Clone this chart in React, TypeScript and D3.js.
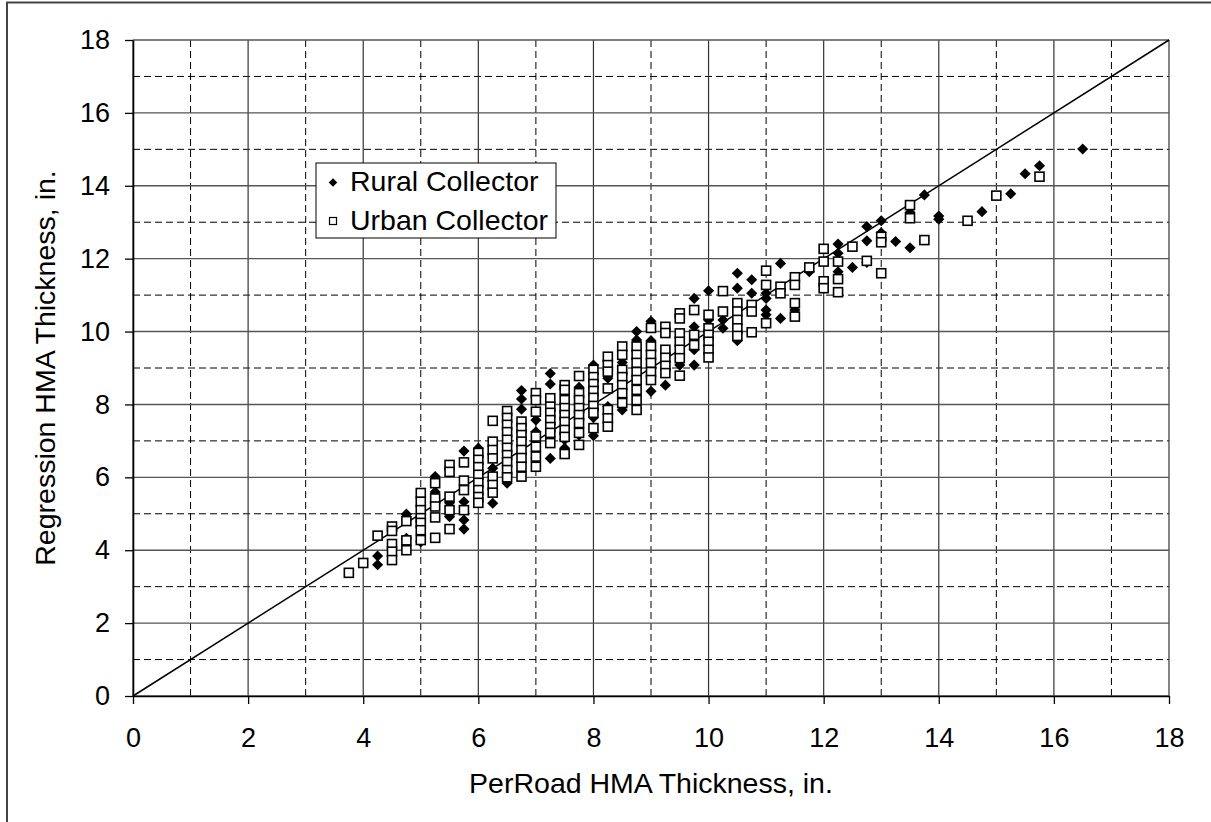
import * as d3 from 'd3';
import React, { useEffect, useRef } from 'react';

// axis ticks (inches)
const majorTicks = [0, 2, 4, 6, 8, 10, 12, 14, 16, 18];
const minorTicks = [1, 3, 5, 7, 9, 11, 13, 15, 17];
const seriesNames = ['Rural Collector', 'Urban Collector'];
const xTitle = 'PerRoad HMA Thickness, in.';
const yTitle = 'Regression HMA Thickness, in.';

// [PerRoad, Regression] pairs
const ruralPoints: [number, number][] = [
  [4.25, 3.84], [4.25, 3.6], [4.75, 4.99], [4.75, 4.33], [5, 4.23],
  [5.25, 6.02], [5.25, 5.6], [5.5, 5.3], [5.5, 4.92],
  [5.75, 6.72], [5.75, 5.33], [5.75, 4.83], [5.75, 4.58],
  [6, 6.8], [6.25, 6.25], [6.25, 5.29], [6.5, 6.02], [6.5, 5.84],
  [6.75, 8.38], [6.75, 8.15], [6.75, 7.87], [6.75, 7.3],
  [7, 7.57], [7, 7.25], [7, 6.53],
  [7.25, 8.85], [7.25, 8.56], [7.25, 7.12], [7.25, 6.52],
  [7.5, 7.03], [7.5, 6.8], [7.75, 8.47], [7.75, 7.16],
  [8, 9.08], [8, 7.64], [8, 7.14], [8.25, 8.72], [8.25, 7.94],
  [8.5, 9.15], [8.5, 7.85], [8.75, 10.0], [8.75, 9.77],
  [9, 10.28], [9, 9.75], [9, 8.36], [9.25, 8.53], [9.5, 9.08],
  [9.75, 10.91], [9.75, 10.13], [9.75, 9.5], [9.75, 9.08],
  [10, 11.12], [10, 10.32], [10.25, 10.32], [10.25, 10.09],
  [10.5, 11.6], [10.5, 11.19], [10.5, 9.75],
  [10.75, 11.42], [10.75, 11.05],
  [11, 11.05], [11, 10.91], [11, 10.59], [11, 10.46],
  [11.25, 11.87], [11.25, 10.36], [11.5, 10.59], [11.75, 11.64],
  [12.25, 12.4], [12.25, 12.15], [12.25, 11.64], [12.5, 11.76],
  [12.75, 12.88], [12.75, 12.49], [12.75, 11.9],
  [13, 13.04], [13, 12.71], [13.25, 12.47],
  [13.5, 13.27], [13.5, 12.3], [13.75, 13.75],
  [14, 13.17], [14, 13.08], [14.75, 13.29], [15.25, 13.78],
  [15.5, 14.33], [15.75, 14.55], [16.5, 15.01],
];

const urbanPoints: [number, number][] = [
  [3.75, 3.38], [4, 3.65], [4.25, 4.4],
  [4.5, 4.65], [4.5, 4.53], [4.5, 4.17], [4.5, 3.96], [4.5, 3.73],
  [4.75, 4.8], [4.75, 4.27], [4.75, 4.0],
  [5, 5.57], [5, 5.33], [5, 5.1], [5, 4.88], [5, 4.75], [5, 4.55], [5, 4.28],
  [5.25, 5.84], [5.25, 5.42], [5.25, 5.2], [5.25, 4.9], [5.25, 4.34],
  [5.5, 6.34], [5.5, 6.15], [5.5, 5.47], [5.5, 5.1], [5.5, 4.58],
  [5.75, 6.41], [5.75, 5.91], [5.75, 5.65], [5.75, 5.1],
  [6, 6.67], [6, 6.48], [6, 6.28], [6, 6.07], [6, 5.85], [6, 5.65], [6, 5.46], [6, 5.3],
  [6.25, 7.55], [6.25, 6.98], [6.25, 6.75], [6.25, 6.52], [6.25, 6.02], [6.25, 5.79], [6.25, 5.58],
  [6.5, 7.82], [6.5, 7.63], [6.5, 7.44], [6.5, 7.24], [6.5, 7.03], [6.5, 6.81], [6.5, 6.61], [6.5, 6.42], [6.5, 6.2], [6.5, 6.0],
  [6.75, 7.53], [6.75, 7.35], [6.75, 7.16], [6.75, 6.98], [6.75, 6.75], [6.75, 6.53], [6.75, 6.29], [6.75, 6.02],
  [7, 8.31], [7, 8.12], [7, 7.8], [7, 7.12], [7, 6.84], [7, 6.57], [7, 6.29],
  [7.25, 8.17], [7.25, 7.94], [7.25, 7.77], [7.25, 7.57], [7.25, 7.38], [7.25, 7.22], [7.25, 6.94],
  [7.5, 8.53], [7.5, 8.4], [7.5, 8.12], [7.5, 7.9], [7.5, 7.71], [7.5, 7.52], [7.5, 7.3], [7.5, 7.11], [7.5, 6.64],
  [7.75, 8.78], [7.75, 8.31], [7.75, 8.12], [7.75, 7.9], [7.75, 7.71], [7.75, 7.49], [7.75, 7.22], [7.75, 6.89],
  [8, 8.95], [8, 8.75], [8, 8.56], [8, 8.37], [8, 8.18], [8, 7.96], [8, 7.77], [8, 7.35],
  [8.25, 9.31], [8.25, 9.08], [8.25, 8.9], [8.25, 8.44], [8.25, 7.85], [8.25, 7.62], [8.25, 7.39],
  [8.5, 9.59], [8.5, 9.36], [8.5, 8.95], [8.5, 8.75], [8.5, 8.53], [8.5, 8.31], [8.5, 8.04],
  [8.75, 9.59], [8.75, 9.36], [8.75, 9.14], [8.75, 8.89], [8.75, 8.67], [8.75, 8.4], [8.75, 8.12], [8.75, 7.85],
  [9, 10.1], [9, 9.59], [9, 9.36], [9, 9.14], [9, 8.89], [9, 8.67],
  [9.25, 10.13], [9.25, 9.96], [9.25, 9.5], [9.25, 9.28], [9.25, 9.06], [9.25, 8.86],
  [9.5, 10.5], [9.5, 10.36], [9.5, 9.95], [9.5, 9.72], [9.5, 9.5], [9.5, 9.27], [9.5, 8.79],
  [9.75, 10.59], [9.75, 9.91], [9.75, 9.63],
  [10, 10.46], [10, 10.09], [10, 9.91], [10, 9.72], [10, 9.5], [10, 9.29],
  [10.25, 11.11], [10.25, 10.55],
  [10.5, 10.78], [10.5, 10.55], [10.5, 10.32], [10.5, 10.09], [10.5, 9.88],
  [10.75, 10.73], [10.75, 10.55], [10.75, 9.98],
  [11, 11.67], [11, 11.28], [11, 10.23], [11.25, 11.23], [11.25, 11.05],
  [11.5, 11.49], [11.5, 11.28], [11.5, 10.78], [11.5, 10.41], [11.75, 11.76],
  [12, 12.27], [12, 11.92], [12, 11.38], [12, 11.19],
  [12.25, 11.92], [12.25, 11.44], [12.25, 11.08], [12.5, 12.33], [12.75, 11.94],
  [13, 12.6], [13, 12.45], [13, 11.6], [13.5, 13.47], [13.5, 13.11],
  [13.75, 12.51], [14.5, 13.04], [15, 13.73], [15.75, 14.25],
];

const WIDTH = 1211;
const HEIGHT = 822;
const margin = { top: 40, right: 42, bottom: 126, left: 133 };
const FONT = '"Liberation Sans", Arial, sans-serif';

const ScatterChart: React.FC = () => {
  const svgRef = useRef<SVGSVGElement>(null);

  useEffect(() => {
    const svg = d3.select(svgRef.current);
    svg.selectAll('*').remove();

    const innerW = WIDTH - margin.left - margin.right;
    const innerH = HEIGHT - margin.top - margin.bottom;
    const x = d3.scaleLinear().domain([0, 18]).range([0, innerW]);
    const y = d3.scaleLinear().domain([0, 18]).range([innerH, 0]);

    // outer frame (right/bottom fall outside the picture)
    svg.append('rect')
      .attr('x', 7).attr('y', 2.5)
      .attr('width', WIDTH + 20).attr('height', HEIGHT + 20)
      .attr('fill', 'white').attr('stroke', '#444').attr('stroke-width', 2);

    const g = svg.append('g').attr('transform', `translate(${margin.left},${margin.top})`);

    // minor dashed grid
    g.selectAll('.vminor').data(minorTicks).join('line')
      .attr('x1', (d) => x(d)).attr('x2', (d) => x(d))
      .attr('y1', 0).attr('y2', innerH)
      .attr('stroke', '#000').attr('stroke-dasharray', '7,4');
    g.selectAll('.hminor').data(minorTicks).join('line')
      .attr('y1', (d) => y(d)).attr('y2', (d) => y(d))
      .attr('x1', 0).attr('x2', innerW)
      .attr('stroke', '#000').attr('stroke-dasharray', '7,4');

    // major solid grid
    g.selectAll('.vmajor').data(majorTicks).join('line')
      .attr('x1', (d) => x(d)).attr('x2', (d) => x(d))
      .attr('y1', 0).attr('y2', innerH)
      .attr('stroke', '#333').attr('stroke-width', 1.2);
    g.selectAll('.hmajor').data(majorTicks).join('line')
      .attr('y1', (d) => y(d)).attr('y2', (d) => y(d))
      .attr('x1', 0).attr('x2', innerW)
      .attr('stroke', '#555').attr('stroke-width', 1.4);

    // axes
    const xAxis = d3.axisBottom(x).tickValues(majorTicks).tickSize(8).tickPadding(24).tickSizeOuter(0);
    const yAxis = d3.axisLeft(y).tickValues(majorTicks).tickSize(8).tickPadding(15).tickSizeOuter(0);
    const xg = g.append('g').attr('transform', `translate(0,${innerH})`).call(xAxis);
    const yg = g.append('g').call(yAxis);
    [xg, yg].forEach((a) => {
      a.select('.domain').attr('stroke', '#000').attr('stroke-width', 1.6);
      a.selectAll('line').attr('stroke', '#000').attr('stroke-width', 1.3);
      a.selectAll('text').attr('font-family', FONT).attr('font-size', 27).attr('fill', '#000');
    });

    // 1:1 line
    g.append('line')
      .attr('x1', x(0)).attr('y1', y(0)).attr('x2', x(18)).attr('y2', y(18))
      .attr('stroke', '#000').attr('stroke-width', 1.5);

    const diamond = d3.symbol().type(d3.symbolSquare).size(62)();

    g.selectAll('.rural').data(ruralPoints).join('path')
      .attr('d', diamond)
      .attr('transform', (d) => `translate(${x(d[0])},${y(d[1])}) rotate(45)`)
      .attr('fill', '#000');

    g.selectAll('.urban').data(urbanPoints).join('rect')
      .attr('x', (d) => x(d[0]) - 4.5).attr('y', (d) => y(d[1]) - 4.5)
      .attr('width', 9).attr('height', 9)
      .attr('fill', '#fff').attr('stroke', '#000').attr('stroke-width', 1.6);

    // legend
    const lg = svg.append('g').attr('transform', 'translate(316,163)');
    lg.append('rect').attr('width', 240).attr('height', 75)
      .attr('fill', '#fff').attr('stroke', '#000').attr('stroke-width', 1);
    lg.append('path').attr('d', d3.symbol().type(d3.symbolSquare).size(36)())
      .attr('transform', 'translate(17,19.5) rotate(45)').attr('fill', '#000');
    lg.append('rect').attr('x', 13.5).attr('y', 54.5).attr('width', 7).attr('height', 7)
      .attr('fill', '#fff').attr('stroke', '#000').attr('stroke-width', 1.2);
    seriesNames.forEach((name, i) => {
      lg.append('text').attr('x', 34).attr('y', 28 + i * 39)
        .attr('font-family', FONT).attr('font-size', 28.5).text(name);
    });

    // titles
    svg.append('text')
      .attr('x', margin.left + innerW / 2).attr('y', 793)
      .attr('text-anchor', 'middle').attr('font-family', FONT).attr('font-size', 28.5)
      .text(xTitle);
    svg.append('text')
      .attr('transform', `translate(55,${margin.top + innerH / 2}) rotate(-90)`)
      .attr('text-anchor', 'middle').attr('font-family', FONT).attr('font-size', 28.5)
      .text(yTitle);
  }, []);

  return (
    <svg
      ref={svgRef}
      width={WIDTH}
      height={HEIGHT}
      style={{ position: 'absolute', left: 0, top: 0, background: '#fff' }}
    />
  );
};

export default function App() {
  return <ScatterChart />;
}
